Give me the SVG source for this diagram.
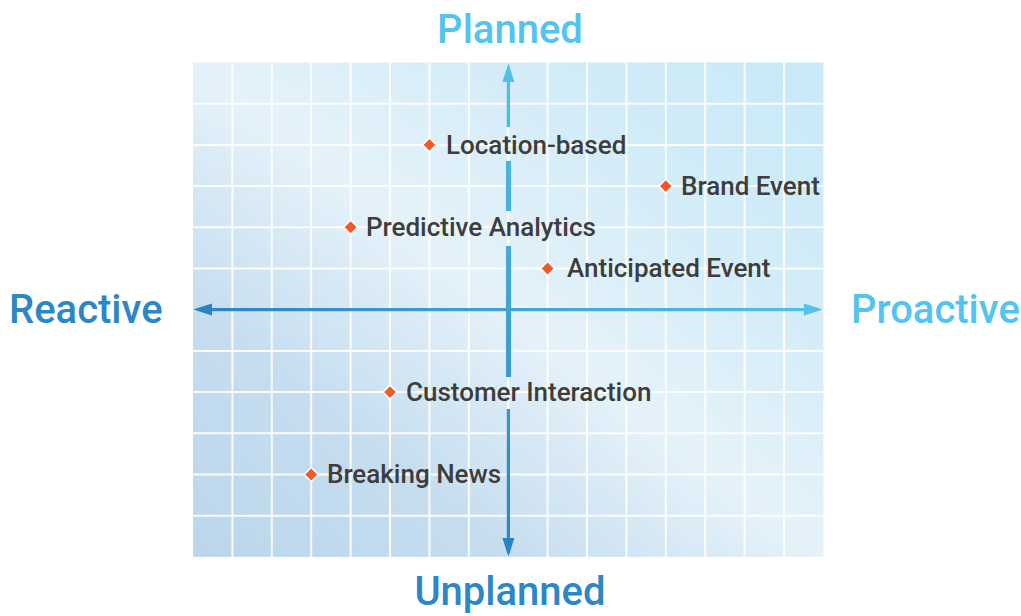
<svg xmlns="http://www.w3.org/2000/svg" width="1021" height="616" viewBox="0 0 1021 616">
  <defs>
    <linearGradient id="bg" x1="0" y1="1" x2="1" y2="0">
      <stop offset="0" stop-color="#bbd6eb"/>
      <stop offset="0.25" stop-color="#c6ddef"/>
      <stop offset="0.5" stop-color="#e5f2fa"/>
      <stop offset="0.75" stop-color="#d3ecf8"/>
      <stop offset="1" stop-color="#c8e9f7"/>
    </linearGradient>
    <linearGradient id="hx" gradientUnits="userSpaceOnUse" x1="193" y1="0" x2="823" y2="0">
      <stop offset="0" stop-color="#2a84c4"/>
      <stop offset="1" stop-color="#52c2ed"/>
    </linearGradient>
    <linearGradient id="vx" gradientUnits="userSpaceOnUse" x1="0" y1="63" x2="0" y2="557">
      <stop offset="0" stop-color="#50c1ed"/>
      <stop offset="1" stop-color="#2a84c4"/>
    </linearGradient>
    <style>
      .grid line { stroke: #ffffff; stroke-width: 2; opacity: 0.9; }
      .axislabel { font-family: Roboto, "Liberation Sans", sans-serif; font-size: 40px; font-weight: 500; }
      .light { fill: #54c3ee; }
      .dark { fill: #2d86c6; }
      .pt text { font-family: Roboto, "Liberation Sans", sans-serif; font-size: 26px; font-weight: 500; fill: #3d3d3d; }
      .dot { fill: #f05a28; stroke: #ffffff; stroke-width: 1.5; }
    </style>
  </defs>

  <rect x="193" y="62.5" width="630.4" height="494.4" fill="url(#bg)"/>

  <g class="grid">
    <line x1="232.4" y1="62.5" x2="232.4" y2="556.9"/>
    <line x1="271.8" y1="62.5" x2="271.8" y2="556.9"/>
    <line x1="311.2" y1="62.5" x2="311.2" y2="556.9"/>
    <line x1="350.6" y1="62.5" x2="350.6" y2="556.9"/>
    <line x1="390" y1="62.5" x2="390" y2="556.9"/>
    <line x1="429.4" y1="62.5" x2="429.4" y2="556.9"/>
    <line x1="468.8" y1="62.5" x2="468.8" y2="556.9"/>
    <line x1="508.2" y1="62.5" x2="508.2" y2="556.9"/>
    <line x1="547.6" y1="62.5" x2="547.6" y2="556.9"/>
    <line x1="587" y1="62.5" x2="587" y2="556.9"/>
    <line x1="626.4" y1="62.5" x2="626.4" y2="556.9"/>
    <line x1="665.8" y1="62.5" x2="665.8" y2="556.9"/>
    <line x1="705.2" y1="62.5" x2="705.2" y2="556.9"/>
    <line x1="744.6" y1="62.5" x2="744.6" y2="556.9"/>
    <line x1="784" y1="62.5" x2="784" y2="556.9"/>
    <line x1="193" y1="103.7" x2="823.4" y2="103.7"/>
    <line x1="193" y1="144.9" x2="823.4" y2="144.9"/>
    <line x1="193" y1="186.1" x2="823.4" y2="186.1"/>
    <line x1="193" y1="227.3" x2="823.4" y2="227.3"/>
    <line x1="193" y1="268.5" x2="823.4" y2="268.5"/>
    <line x1="193" y1="309.7" x2="823.4" y2="309.7"/>
    <line x1="193" y1="350.9" x2="823.4" y2="350.9"/>
    <line x1="193" y1="392.1" x2="823.4" y2="392.1"/>
    <line x1="193" y1="433.3" x2="823.4" y2="433.3"/>
    <line x1="193" y1="474.5" x2="823.4" y2="474.5"/>
    <line x1="193" y1="515.7" x2="823.4" y2="515.7"/>
  </g>

  <g id="connectors">
    <!-- horizontal axis -->
    <rect x="210" y="308" width="597" height="3.2" fill="url(#hx)"/>
    <polygon points="193,309.6 212,303.6 212,315.6" fill="#2a84c4"/>
    <polygon points="823,309.6 804,303.6 804,315.6" fill="#52c2ed"/>
    <!-- vertical axis -->
    <rect x="506.8" y="80" width="3.2" height="47" fill="url(#vx)"/>
    <rect x="506" y="161" width="5" height="50" fill="url(#vx)"/>
    <rect x="506" y="246" width="5" height="131" fill="url(#vx)"/>
    <rect x="506.8" y="409" width="3.2" height="132" fill="url(#vx)"/>
    <polygon points="508.4,63 502.4,82 514.4,82" fill="#50c1ed"/>
    <polygon points="508.4,557 502.4,538 514.4,538" fill="#2a84c4"/>
  </g>

  <g id="axis-planned"><text class="axislabel light" x="510" y="43" text-anchor="middle">Planned</text></g>
  <g id="axis-unplanned"><text class="axislabel dark" x="510" y="605" text-anchor="middle">Unplanned</text></g>
  <g id="axis-reactive"><text class="axislabel dark" x="9" y="323">Reactive</text></g>
  <g id="axis-proactive"><text class="axislabel light" x="851" y="323">Proactive</text></g>

  <g id="location-based" class="pt">
    <polygon class="dot" points="429.4,137.9 436.4,144.9 429.4,151.9 422.4,144.9"/>
    <text x="446" y="153.5">Location-based</text>
  </g>
  <g id="brand-event" class="pt">
    <polygon class="dot" points="665.8,179.1 672.8,186.1 665.8,193.1 658.8,186.1"/>
    <text x="681" y="194.5">Brand Event</text>
  </g>
  <g id="predictive-analytics" class="pt">
    <polygon class="dot" points="350.6,220.3 357.6,227.3 350.6,234.3 343.6,227.3"/>
    <text x="366" y="236">Predictive Analytics</text>
  </g>
  <g id="anticipated-event" class="pt">
    <polygon class="dot" points="547.6,261.5 554.6,268.5 547.6,275.5 540.6,268.5"/>
    <text x="567" y="277">Anticipated Event</text>
  </g>
  <g id="customer-interaction" class="pt">
    <polygon class="dot" points="390,385.1 397,392.1 390,399.1 383,392.1"/>
    <text x="406" y="400.5">Customer Interaction</text>
  </g>
  <g id="breaking-news" class="pt">
    <polygon class="dot" points="311.2,467.5 318.2,474.5 311.2,481.5 304.2,474.5"/>
    <text x="327" y="482.5">Breaking News</text>
  </g>
</svg>
